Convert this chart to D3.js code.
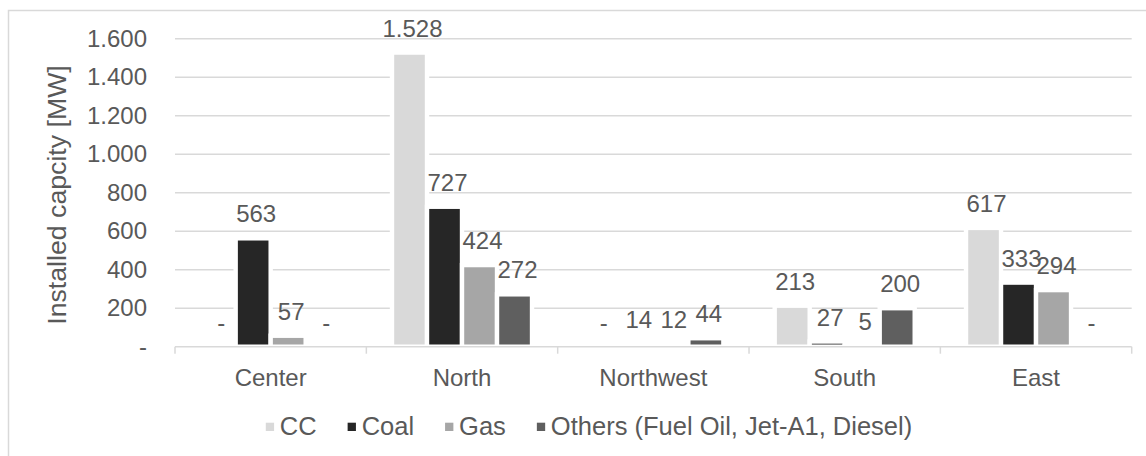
<!DOCTYPE html>
<html>
<head>
<meta charset="utf-8">
<script src="https://cdn.jsdelivr.net/npm/d3@7"></script>
<style>
  body { margin: 0; background: #fff; }
  svg text { font-family: "Liberation Sans", Arial, sans-serif; fill: #595959; }
</style>
</head>
<body>
<svg id="chart"></svg>
<script>
var canvas_width = 1146;
var canvas_height = 456;

// data
var regions = ["Center", "North", "Northwest", "South", "East"];
var series = ["CC", "Coal", "Gas", "Others (Fuel Oil, Jet-A1, Diesel)"];
var cc_values = [0, 1528, 0, 213, 617];
var coal_values = [563, 727, 14, 27, 333];
var gas_values = [57, 424, 12, 5, 294];
var others_values = [0, 272, 44, 200, 0];
var y_ticks = [0, 200, 400, 600, 800, 1000, 1200, 1400, 1600];
var colour = ["#d9d9d9", "#262626", "#a6a6a6", "#5f5f5f"];

var all_values = [cc_values, coal_values, gas_values, others_values];

var plot_left = 175, plot_right = 1131.7, plot_top = 38.7, plot_bottom = 346.7;

var locale = d3.formatLocale({decimal: ",", thousands: ".", grouping: [3], currency: ["", ""]});
var fmt_num = locale.format(",d");
function fmt(v){ return v == 0 ? "-" : fmt_num(v); }

let svg = d3.select("#chart");
svg.attr("width", canvas_width).attr("height", canvas_height);

// chart border (runs off right/bottom edge)
svg.append("rect")
    .attr("x", 8.5).attr("y", 10.5)
    .attr("width", 1160).attr("height", 460)
    .attr("fill", "none")
    .attr("stroke", "#d9d9d9")
    .attr("stroke-width", 1.5);

var x0 = d3.scaleBand().domain(regions).range([plot_left, plot_right]).padding(0);
var x1 = d3.scaleBand().domain(series).range([0, x0.bandwidth()])
    .paddingInner(0).paddingOuter(0.733);
var y = d3.scaleLinear().domain([0, 1600]).range([plot_bottom, plot_top]);

// gridlines
svg.selectAll(".grid")
    .data(y_ticks.filter(d => d > 0))
    .join("line")
    .attr("class", "grid")
    .attr("x1", plot_left).attr("x2", plot_right)
    .attr("y1", d => y(d)).attr("y2", d => y(d))
    .attr("stroke", "#d9d9d9")
    .attr("stroke-width", 1.5);

// y axis labels
let yaxis = svg.append("g")
    .attr("transform", "translate(" + plot_left + ",0)")
    .call(d3.axisLeft(y).tickValues(y_ticks).tickFormat(fmt).tickSize(0).tickPadding(28));
yaxis.select(".domain").remove();
yaxis.selectAll("text")
    .style("font-size", "24px")
    .attr("fill", "#595959")
    .style("font-family", "'Liberation Sans', Arial, sans-serif");

// bars
var groups = svg.selectAll(".grp")
    .data(regions)
    .join("g")
    .attr("class", "grp")
    .attr("transform", d => "translate(" + x0(d) + ",0)");

var bar_data = (r, ri) => series.map((s, si) => ({region: r, series: s, si: si, value: all_values[si][ri]}));

groups.selectAll("rect")
    .data((r, ri) => bar_data(r, ri))
    .join("rect")
    .attr("x", d => x1(d.series))
    .attr("y", d => y(d.value))
    .attr("width", x1.bandwidth())
    .attr("height", d => y(0) - y(d.value))
    .attr("fill", d => colour[d.si])
    .attr("stroke", "#fff")
    .attr("stroke-width", 4.4);

// x axis line and ticks
var xaxis = svg.append("g")
    .attr("transform", "translate(0," + plot_bottom + ")")
    .call(d3.axisBottom(x0).tickSize(0).tickPadding(22));
xaxis.select(".domain").attr("stroke", "#d9d9d9").attr("stroke-width", 1.5)
    .attr("d", "M" + plot_left + ",0H" + plot_right);
xaxis.selectAll("text")
    .style("font-size", "24px")
    .attr("fill", "#595959")
    .style("font-family", "'Liberation Sans', Arial, sans-serif");
var bounds = regions.map(r => x0(r)).concat([plot_right]);
xaxis.selectAll(".bound")
    .data(bounds)
    .join("line")
    .attr("class", "bound")
    .attr("x1", d => d).attr("x2", d => d)
    .attr("y1", 0).attr("y2", 7)
    .attr("stroke", "#d9d9d9")
    .attr("stroke-width", 1.5);

// data labels
groups.selectAll(".lbl")
    .data((r, ri) => bar_data(r, ri))
    .join("text")
    .attr("class", "lbl")
    .attr("x", d => x1(d.series) + x1.bandwidth() / 2 + 3)
    .attr("y", d => y(d.value) - 16)
    .attr("text-anchor", "middle")
    .style("font-size", "24px")
    .text(d => fmt(d.value));

// y axis title
svg.append("text")
    .attr("transform", "translate(66,195) rotate(-90)")
    .attr("text-anchor", "middle")
    .style("font-size", "26.7px")
    .text("Installed capcity [MW]");

// legend
var legend = svg.append("g");
var lx = 0;
series.forEach((s, i) => {
    var item = legend.append("g").attr("transform", "translate(" + lx + ",0)");
    item.append("rect")
        .attr("x", 0).attr("y", 422.7)
        .attr("width", 8.3).attr("height", 8.3)
        .attr("fill", colour[i]);
    var t = item.append("text")
        .attr("x", 14).attr("y", 435)
        .style("font-size", "25.5px")
        .text(s);
    lx += 14 + t.node().getComputedTextLength() + 31;
});
var legend_width = lx - 31;
legend.attr("transform", "translate(" + (589 - legend_width / 2) + ",0)");
</script>
</body>
</html>
